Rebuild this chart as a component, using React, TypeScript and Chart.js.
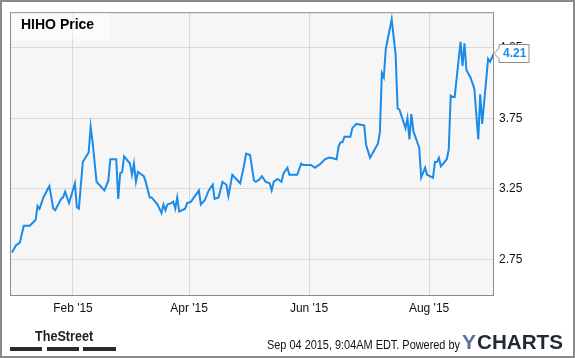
import React, { useEffect, useRef } from "react";
import { Chart, registerables } from "chart.js";

Chart.register(...registerables);

// Day index (0 = Jan 1 2015) and closing price
const days = [
  0, 2, 4, 6, 7, 9, 12, 13, 14, 16, 19, 21, 22, 25, 26, 27, 29, 32, 33, 34,
  36, 39, 40, 41, 43, 47, 49, 50, 53, 54, 55, 56, 57, 60, 61, 62, 63, 64, 67, 68,
  70, 71, 74, 76, 77, 78, 79, 81, 82, 83, 84, 85, 88, 89, 91, 95, 96, 98, 100, 102,
  103, 105, 107, 109, 110, 112, 114, 116, 118, 119, 121, 123, 124, 126, 127, 129, 131, 132, 133, 135,
  137, 138, 140, 141, 145, 147, 148, 152, 154, 157, 159, 161, 162, 165, 166, 167, 168, 169, 172, 173,
  175, 179, 180, 182, 186, 187, 188, 189, 190, 193, 195, 196, 197, 200, 201, 202, 203, 204, 207, 208,
  210, 211, 214, 215, 216, 217, 218, 221, 222, 223, 224, 225, 228, 229, 230, 231, 233, 235, 237, 238,
  239, 242, 243, 245,
];
const prices = [
  2.8, 2.85, 2.87, 2.99, 2.99, 2.99, 3.03, 3.13, 3.11, 3.19, 3.27, 3.11, 3.1, 3.18, 3.19, 3.23, 3.15, 3.29, 3.12, 3.11,
  3.44, 3.51, 3.69, 3.58, 3.3, 3.24, 3.31, 3.46, 3.46, 3.18, 3.36, 3.37, 3.48, 3.43, 3.35, 3.43, 3.3, 3.37, 3.34, 3.3,
  3.19, 3.19, 3.14, 3.08, 3.14, 3.1, 3.14, 3.15, 3.16, 3.11, 3.19, 3.09, 3.11, 3.15, 3.16, 3.24, 3.14, 3.17, 3.24, 3.28,
  3.18, 3.19, 3.3, 3.28, 3.2, 3.35, 3.32, 3.29, 3.42, 3.5, 3.49, 3.31, 3.3, 3.32, 3.34, 3.3, 3.29, 3.24, 3.3, 3.32,
  3.3, 3.36, 3.4, 3.35, 3.35, 3.43, 3.42, 3.42, 3.4, 3.43, 3.46, 3.47, 3.47, 3.46, 3.55, 3.58, 3.58, 3.62, 3.62, 3.68,
  3.71, 3.7, 3.56, 3.47, 3.57, 3.65, 4.07, 4.04, 4.24, 4.45, 4.2, 3.82, 3.81, 3.68, 3.75, 3.6, 3.78, 3.66, 3.54, 3.33,
  3.4, 3.35, 3.33, 3.44, 3.44, 3.47, 3.41, 3.46, 3.53, 3.91, 3.9, 3.9, 4.29, 4.12, 4.28, 4.09, 4.04, 3.96, 3.6, 3.92,
  3.71, 4.17, 4.15, 4.21,
];

const xTickDays = [31, 90, 151, 212];
const xTickLabels = ["Feb '15", "Apr '15", "Jun '15", "Aug '15"];
const yTicks = [2.75, 3.25, 3.75, 4.25];
const titleText = "HIHO Price";
const footerText = "Sep 04 2015, 9:04AM EDT. Powered by";

const LINE = "#1b8be9";
const FONT = "'Liberation Sans', Arial, sans-serif";

const decorPlugin = {
  id: "decor",
  beforeDraw(chart: any) {
    const { ctx, chartArea: a } = chart;
    ctx.save();
    ctx.fillStyle = "#ffffff";
    ctx.fillRect(0, 0, chart.width, chart.height);
    ctx.fillStyle = "#f6f6f6";
    ctx.fillRect(a.left, a.top, a.right - a.left, a.bottom - a.top);
    ctx.restore();
  },
  afterDraw(chart: any) {
    const { ctx, chartArea: a } = chart;
    ctx.save();
    // plot border
    ctx.strokeStyle = "#8c8c8c";
    ctx.lineWidth = 1;
    ctx.strokeRect(a.left + 0.5, a.top + 0.5, a.right - a.left - 1, a.bottom - a.top);
    // outer border
    ctx.strokeStyle = "#8a8a8a";
    ctx.lineWidth = 2;
    ctx.strokeRect(1, 1, chart.width - 2, chart.height - 2);

    // title box
    ctx.fillStyle = "rgba(255,255,255,0.55)";
    ctx.fillRect(a.left + 1, a.top + 1, 99, 26);
    ctx.fillStyle = "#000000";
    ctx.font = `bold 14px ${FONT}`;
    ctx.textBaseline = "alphabetic";
    ctx.textAlign = "left";
    ctx.fillText(titleText, 21, 29);

    // last value label
    const last = prices[prices.length - 1];
    const yc = Math.round(chart.scales.y.getPixelForValue(last)) + 0.5;
    const bx = a.right + 5;
    ctx.beginPath();
    ctx.moveTo(a.right, yc);
    ctx.lineTo(bx, yc - 5);
    ctx.lineTo(bx, yc - 9);
    ctx.lineTo(bx + 30, yc - 9);
    ctx.lineTo(bx + 30, yc + 9);
    ctx.lineTo(bx, yc + 9);
    ctx.lineTo(bx, yc + 5);
    ctx.closePath();
    ctx.fillStyle = "#ffffff";
    ctx.fill();
    ctx.strokeStyle = "#8c8c8c";
    ctx.lineWidth = 1;
    ctx.stroke();
    ctx.fillStyle = LINE;
    ctx.font = `bold 12px ${FONT}`;
    ctx.textBaseline = "middle";
    ctx.fillText(last.toFixed(2), bx + 4, yc + 0.5);

    // footer: TheStreet
    ctx.textBaseline = "alphabetic";
    ctx.fillStyle = "#222222";
    ctx.save();
    ctx.translate(35, 341);
    ctx.scale(0.84, 1);
    ctx.font = `bold 15px ${FONT}`;
    ctx.fillText("TheStreet", 0, 0);
    ctx.restore();
    ctx.fillStyle = "#2a2a2a";
    ctx.fillRect(10, 347, 32, 4);
    ctx.fillRect(47, 347, 32, 4);
    ctx.fillRect(83, 347, 33, 4);

    // footer text
    ctx.fillStyle = "#111111";
    ctx.font = `12px ${FONT}`;
    ctx.fillText(footerText, 267, 349, 193);

    // YCHARTS
    ctx.font = `bold 21px ${FONT}`;
    ctx.fillStyle = "#5f6fa6";
    ctx.fillText("Y", 462, 349, 15);
    ctx.fillStyle = "#1f2a36";
    ctx.fillText("CHARTS", 477, 349, 86);
    ctx.restore();
  },
};

export default function App() {
  const ref = useRef<HTMLCanvasElement | null>(null);
  useEffect(() => {
    if (!ref.current) return;
    const data = days.map((d, i) => ({ x: d, y: prices[i] }));
    const chart = new Chart(ref.current, {
      type: "line",
      data: {
        datasets: [
          {
            data,
            borderColor: LINE,
            borderWidth: 2,
            pointRadius: 0,
            tension: 0,
            fill: false,
          },
        ],
      },
      options: {
        animation: false,
        responsive: false,
        devicePixelRatio: 1,
        layout: { padding: { top: 10, left: 10, right: 0, bottom: 0 } },
        plugins: { legend: { display: false }, tooltip: { enabled: false }, title: { display: false } },
        scales: {
          x: {
            type: "linear",
            min: -1,
            max: 245,
            afterBuildTicks: (s: any) => {
              s.ticks = xTickDays.map((v) => ({ value: v }));
            },
            afterFit: (s: any) => {
              s.height = 63;
            },
            grid: { color: "#d9d9d9", lineWidth: 1, drawTicks: false },
            border: { display: false },
            ticks: {
              autoSkip: false,
              maxRotation: 0,
              padding: 6,
              color: "#111111",
              font: { family: FONT, size: 12 },
              callback: (v: any) => {
                const i = xTickDays.indexOf(Number(v));
                return i >= 0 ? xTickLabels[i] : "";
              },
            },
          },
          y: {
            type: "linear",
            position: "right",
            min: 2.5,
            max: 4.5,
            afterBuildTicks: (s: any) => {
              s.ticks = yTicks.map((v) => ({ value: v }));
            },
            afterFit: (s: any) => {
              s.width = 81;
            },
            grid: { color: "#d9d9d9", lineWidth: 1, drawTicks: false },
            border: { display: false },
            ticks: {
              padding: 5,
              color: "#111111",
              font: { family: FONT, size: 12 },
              callback: (v: any) => Number(v).toFixed(2),
            },
          },
        },
      },
      plugins: [decorPlugin],
    });
    return () => chart.destroy();
  }, []);
  return (
    <div style={{ position: "fixed", left: 0, top: 0, width: 575, height: 358 }}>
      <canvas ref={ref} width={575} height={358} style={{ display: "block" }} />
    </div>
  );
}
